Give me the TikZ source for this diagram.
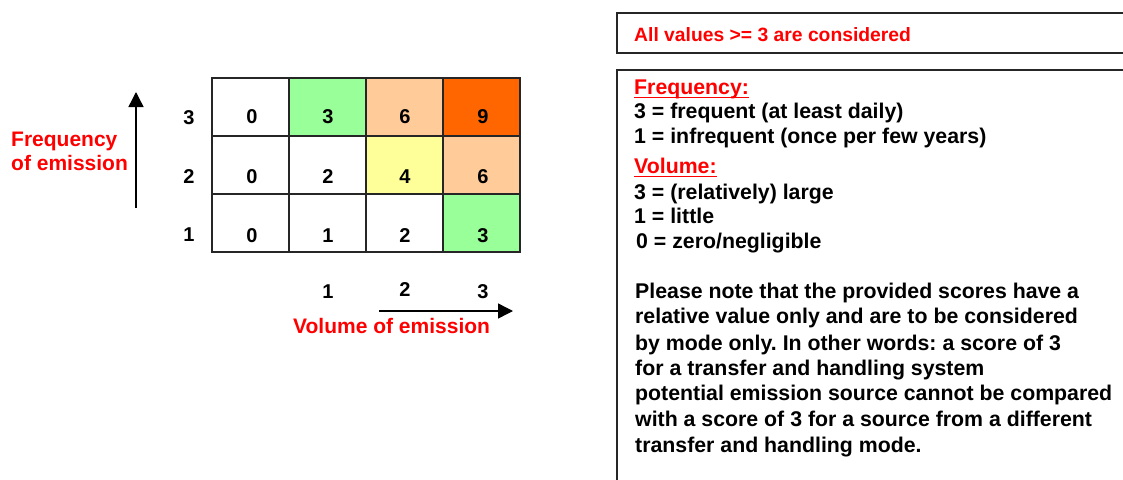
\documentclass[tikz,border=0pt]{standalone}
\usepackage{fontspec}
\setmainfont{Liberation Sans}
\usetikzlibrary{arrows.meta}
\definecolor{rred}{HTML}{FF0000}
\definecolor{cgreen}{HTML}{99FF99}
\definecolor{cpeach}{HTML}{FFCC99}
\definecolor{corange}{HTML}{FF6600}
\definecolor{cyellow}{HTML}{FFFF99}
\frenchspacing
\begin{document}
\begin{tikzpicture}[x=1pt,y=-1pt,
  cell/.style={draw=black!85,line width=1.6pt,minimum width=77pt,minimum height=58pt,inner sep=0pt,outer sep=0pt},
  num/.style={anchor=base,inner sep=0pt,font=\bfseries\fontsize{20}{24}\selectfont},
  axlab/.style={inner sep=0pt,text=rred,font=\bfseries\fontsize{21}{25}\selectfont},
  body/.style={anchor=base west,inner sep=0pt,font=\bfseries\fontsize{21.3}{25}\selectfont},
  head/.style={anchor=base west,inner sep=0pt,text=rred,font=\bfseries\fontsize{21.3}{25}\selectfont},
  uline/.style={draw=rred,line width=1.6pt},
  box/.style={draw=black!85,line width=1.4pt},
  arr/.style={line width=1.4pt,-{Triangle[length=15pt,width=15pt]}}]
\useasboundingbox (0,0) rectangle (1123,479);
\clip (0,0) rectangle (1123,479);
% grid cells
\node[cell] (c30) at (250.5,107) {};
\node[cell,fill=cgreen] (c31) at (327.5,107) {};
\node[cell,fill=cpeach] (c32) at (404.5,107) {};
\node[cell,fill=corange] (c33) at (481.5,107) {};
\node[cell] (c20) at (250.5,165) {};
\node[cell] (c21) at (327.5,165) {};
\node[cell,fill=cyellow] (c22) at (404.5,165) {};
\node[cell,fill=cpeach] (c23) at (481.5,165) {};
\node[cell] (c10) at (250.5,223) {};
\node[cell] (c11) at (327.5,223) {};
\node[cell] (c12) at (404.5,223) {};
\node[cell,fill=cgreen] (c13) at (481.5,223) {};
% numbers
\node[num] (n30) at (252,123) {0};
\node[num] (n31) at (328,123) {3};
\node[num] (n32) at (405,123) {6};
\node[num] (n33) at (483,123) {9};
\node[num] (n20) at (252,183) {0};
\node[num] (n21) at (328,183) {2};
\node[num] (n22) at (405,183) {4};
\node[num] (n23) at (483,183) {6};
\node[num] (n10) at (252,242) {0};
\node[num] (n11) at (328,242) {1};
\node[num] (n12) at (405,242) {2};
\node[num] (n13) at (483,242) {3};
% row labels
\node[num] (r3) at (189,124) {3};
\node[num] (r2) at (189,183) {2};
\node[num] (r1) at (189,241) {1};
% column labels
\node[num] (k1) at (328,298) {1};
\node[num] (k2) at (405,296) {2};
\node[num] (k3) at (483,298) {3};
% axis labels
\node[axlab,anchor=base west] (fq1) at (11,146) {Frequency};
\node[axlab,anchor=base west] (fq2) at (11,170) {of emission};
\node[axlab,anchor=base west] (vol) at (293,333) {Volume of emission};
% arrows
\coordinate (va) at (136,208);
\coordinate (vb) at (136,92);
\draw[arr] (va) -- (vb);
\coordinate (ha) at (379,311);
\coordinate (hb) at (513,311);
\draw[arr] (ha) -- (hb);
% right boxes
\draw[box] (617,13) rectangle (1140,53);
\node[anchor=base west,inner sep=0pt,text=rred,font=\bfseries\fontsize{19.3}{24}\selectfont] (allv) at (634,41) {All values >= 3 are considered};
\draw[box] (617,70) rectangle (1140,500);
\node[head] (fh) at (634,94) {Frequency:};
\draw[uline] ([yshift=-3.5pt]fh.base west) -- ([yshift=-3.5pt]fh.base east);
\node[body] (f3) at (634,118) {3 = frequent (at least daily)};
\node[body] (f1) at (634,143) {1 = infrequent (once per few years)};
\node[head] (vh) at (634,173) {Volume:};
\draw[uline] ([yshift=-3.5pt]vh.base west) -- ([yshift=-3.5pt]vh.base east);
\node[body] (v3) at (634,199) {3 = (relatively) large};
\node[body] (v1) at (634,223) {1 = little};
\node[body] (v0) at (636,248) {0 = zero/negligible};
\node[body] (p1) at (635,298) {Please note that the provided scores have a};
\node[body] (p2) at (635,323) {relative value only and are to be considered};
\node[body] (p3) at (635,350) {by mode only. In other words: a score of 3};
\node[body] (p4) at (635,375) {for a transfer and handling system};
\node[body] (p5) at (635,400) {potential emission source cannot be compared};
\node[body] (p6) at (635,426) {with a score of 3 for a source from a different};
\node[body] (p7) at (635,452) {transfer and handling mode.};
\end{tikzpicture}
\end{document}
